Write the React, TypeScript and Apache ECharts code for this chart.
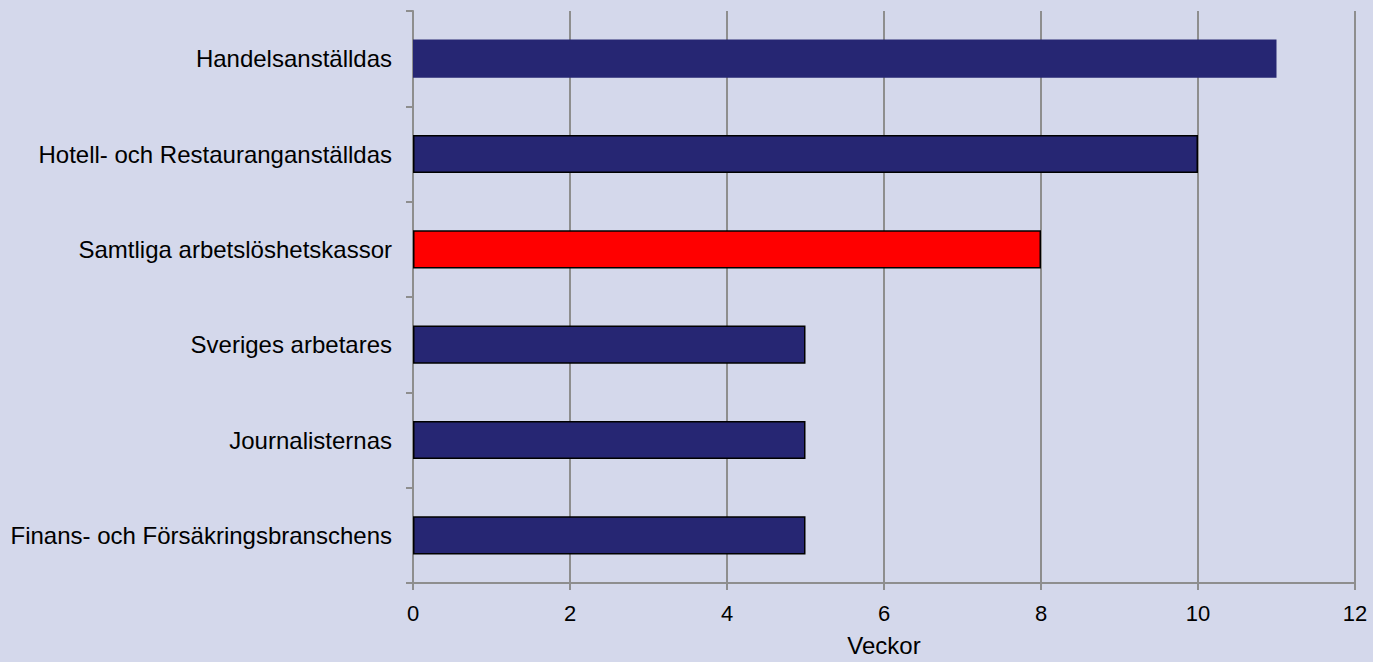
import React, { useEffect, useRef } from "react";
import * as echarts from "echarts";

const categories = [
  "Handelsanställdas",
  "Hotell- och Restauranganställdas",
  "Samtliga arbetslöshetskassor",
  "Sveriges arbetares",
  "Journalisternas",
  "Finans- och Försäkringsbranschens",
];
const values = [11, 10, 8, 5, 5, 5];
const highlighted = [false, false, true, false, false, false];
const bordered = [false, true, true, true, true, true];
const xAxisName = "Veckor";

export default function App() {
  const ref = useRef<HTMLDivElement>(null);
  useEffect(() => {
    document.body.style.margin = "0";
    const chart = echarts.init(ref.current!, null, { renderer: "svg" });
    const font = "'Liberation Sans', Arial, sans-serif";
    chart.setOption({
      animation: false,
      backgroundColor: "#D4D8EB",
      grid: { left: 413, right: 18, top: 11, bottom: 73, containLabel: false },
      xAxis: {
        type: "value",
        min: 0,
        max: 12,
        interval: 2,
        name: xAxisName,
        nameLocation: "middle",
        nameGap: 50,
        nameTextStyle: { color: "#000", fontSize: 24, fontFamily: font },
        axisLine: { show: true, lineStyle: { color: "#8E8E8E", width: 2 } },
        axisTick: { show: true, length: 7, lineStyle: { color: "#8E8E8E", width: 2 } },
        axisLabel: { color: "#000", fontSize: 22, fontFamily: font, margin: 19 },
        splitLine: { show: true, lineStyle: { color: "#8E8E8E", width: 2 } },
      },
      yAxis: {
        type: "category",
        inverse: true,
        data: categories,
        axisLine: { show: true, lineStyle: { color: "#8E8E8E", width: 2 } },
        axisTick: { show: true, length: 7, alignWithLabel: false, lineStyle: { color: "#8E8E8E", width: 2 } },
        axisLabel: { color: "#000", fontSize: 24, fontFamily: font, margin: 21 },
        splitLine: { show: false },
      },
      series: [
        {
          type: "bar",
          barWidth: "40%",
          data: values.map((v, i) => ({
            value: v,
            itemStyle: {
              color: highlighted[i] ? "#FF0000" : "#262673",
              borderColor: "#000",
              borderWidth: bordered[i] ? 1.5 : 0,
            },
          })),
        },
      ],
    });
    return () => chart.dispose();
  }, []);
  return <div ref={ref} style={{ width: 1373, height: 662 }} />;
}
